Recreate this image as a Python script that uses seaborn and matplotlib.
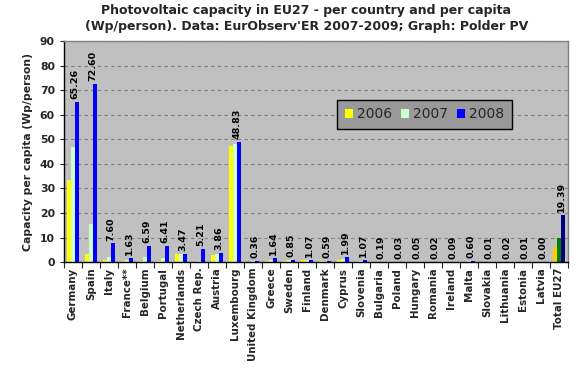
import matplotlib
matplotlib.use("Agg")
import matplotlib.pyplot as plt
import seaborn as sns
import pandas as pd
import numpy as np

countries = ["Germany", "Spain", "Italy", "France**", "Belgium", "Portugal", "Netherlands",
             "Czech Rep.", "Austria", "Luxembourg", "United Kingdom", "Greece", "Sweden",
             "Finland", "Denmark", "Cyprus", "Slovenia", "Bulgaria", "Poland", "Hungary",
             "Romania", "Ireland", "Malta", "Slovakia", "Lithuania", "Estonia", "Latvia",
             "Total EU27"]
v2006 = [33.6, 3.4, 0.9, 0.5, 0.4, 0.3, 3.2, 0.1, 2.8, 47.2, 0.24, 0.4, 0.5, 0.8, 0.5,
         0.9, 0.1, 0.0, 0.01, 0.02, 0.0, 0.05, 0.1, 0.0, 0.0, 0.0, 0.0, 6.0]
v2007 = [46.8, 15.5, 2.0, 0.7, 2.1, 1.7, 3.3, 0.4, 3.3, 48.1, 0.3, 0.8, 0.7, 0.9, 0.6,
         1.4, 0.3, 0.05, 0.02, 0.03, 0.01, 0.07, 0.3, 0.01, 0.01, 0.01, 0.0, 9.8]
v2008 = [65.26, 72.60, 7.60, 1.63, 6.59, 6.41, 3.47, 5.21, 3.86, 48.83, 0.36, 1.64, 0.85,
         1.07, 0.59, 1.99, 1.07, 0.19, 0.03, 0.05, 0.02, 0.09, 0.60, 0.01, 0.02, 0.01, 0.00,
         19.39]
years = ["2006", "2007", "2008"]
colors = ["#FFFF00", "#CCFFCC", "#0000FF"]
total_colors = ["#FFCC00", "#008000", "#000080"]

df = pd.DataFrame({
    "country": countries * 3,
    "year": sum([[y] * len(countries) for y in years], []),
    "value": v2006 + v2007 + v2008,
})

sns.set_style("white")
plt.rcParams["font.family"] = ["DejaVu Sans"]

fig = plt.figure(figsize=(5.81, 3.81), dpi=100)
ax = fig.add_axes([0.110, 0.312, 0.868, 0.580])
ax.set_facecolor("#C0C0C0")

sns.barplot(data=df, x="country", y="value", hue="year", hue_order=years,
            palette=colors, width=0.66, ax=ax, saturation=1, linewidth=0, legend=True)

for ci, cont in enumerate(ax.containers):
    cont[len(countries) - 1].set_facecolor(total_colors[ci])

# labels on 2008 bars
for bar, val in zip(ax.containers[2], v2008):
    x = bar.get_x() + bar.get_width() / 2
    ax.text(x - 0.1, bar.get_height() + 1.2, f"{val:.2f}", rotation=90, ha="center",
            va="bottom", fontsize=6.8, fontweight="bold", color="black")

ax.set_ylim(0, 90)
ax.set_xlim(-0.5, len(countries) - 0.5)
ax.set_yticks(np.arange(0, 91, 10))
ax.yaxis.grid(True, color="#808080", linestyle=(0, (3, 3)), linewidth=0.8)
ax.set_axisbelow(True)
ax.tick_params(axis="y", labelsize=7.8, length=3, direction="out", left=True, width=0.8)
for lab in ax.get_yticklabels():
    lab.set_fontweight("bold")
ax.set_xticks(range(len(countries)))
ax.set_xticklabels(countries, rotation=90, fontsize=7.4, fontweight="bold")
ax.tick_params(axis="x", length=0, pad=4)
ax.set_xticks(np.arange(-0.5, len(countries), 1), minor=True)
ax.tick_params(axis="x", which="minor", length=4, width=0.8, bottom=True)
ax.set_xlabel("")
ax.set_ylabel("Capacity per capita (Wp/person)", fontsize=7.8, fontweight="bold", labelpad=5)

for s in ["left", "bottom"]:
    ax.spines[s].set_color("black")
    ax.spines[s].set_linewidth(1)
for s in ["top", "right"]:
    ax.spines[s].set_color("#808080")
    ax.spines[s].set_linewidth(1)

leg = ax.legend(loc="upper left", bbox_to_anchor=(0.542, 0.735), ncol=3, frameon=True,
                fontsize=10, handlelength=0.6, handleheight=0.6, handletextpad=0.3,
                columnspacing=0.6, borderpad=0.55, borderaxespad=0, fancybox=False)
leg.get_frame().set_facecolor("#999999")
leg.get_frame().set_edgecolor("black")
leg.get_frame().set_alpha(1)
leg.get_frame().set_linewidth(1)

fig.text(0.527, 0.99, "Photovoltaic capacity in EU27 - per country and per capita\n"
         "(Wp/person). Data: EurObserv'ER 2007-2009; Graph: Polder PV",
         ha="center", va="top", fontsize=9, fontweight="bold", linespacing=1.3)

fig.savefig("out.png", dpi=100, facecolor="white")
